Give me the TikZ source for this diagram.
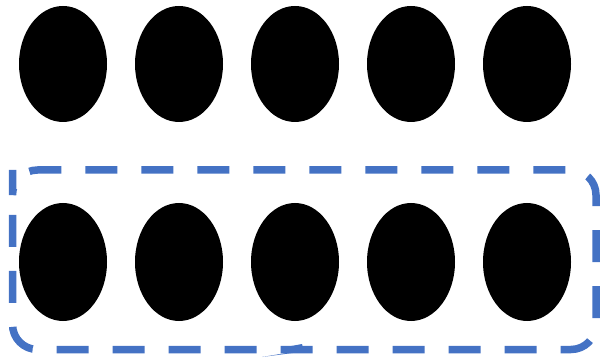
\documentclass[tikz,border=0pt]{standalone}
\definecolor{dashblue}{RGB}{68,114,196}
\begin{document}
\begin{tikzpicture}[x=1pt,y=-1pt,
  frame/.style={draw=dashblue,line width=7.5pt,dash pattern=on 32pt off 24pt,rounded corners=25pt}]
\useasboundingbox (0,0) rectangle (600,358);
\foreach \i/\x in {1/63,2/179,3/295,4/411,5/527}{
  \fill (\x,64) ellipse [x radius=44, y radius=58];
  \fill (\x,262) ellipse [x radius=44, y radius=59];
}
\coordinate (s) at (12.5,195);
\draw[frame] (s) -- (12.5,170) -- (596,170) -- (596,349.5) -- (12.5,349.5) -- cycle;
\fill[dashblue] (262,357) -- (304,351.5) -- (302,344) -- (286,347) -- (286,353) -- cycle;
\end{tikzpicture}
\end{document}
